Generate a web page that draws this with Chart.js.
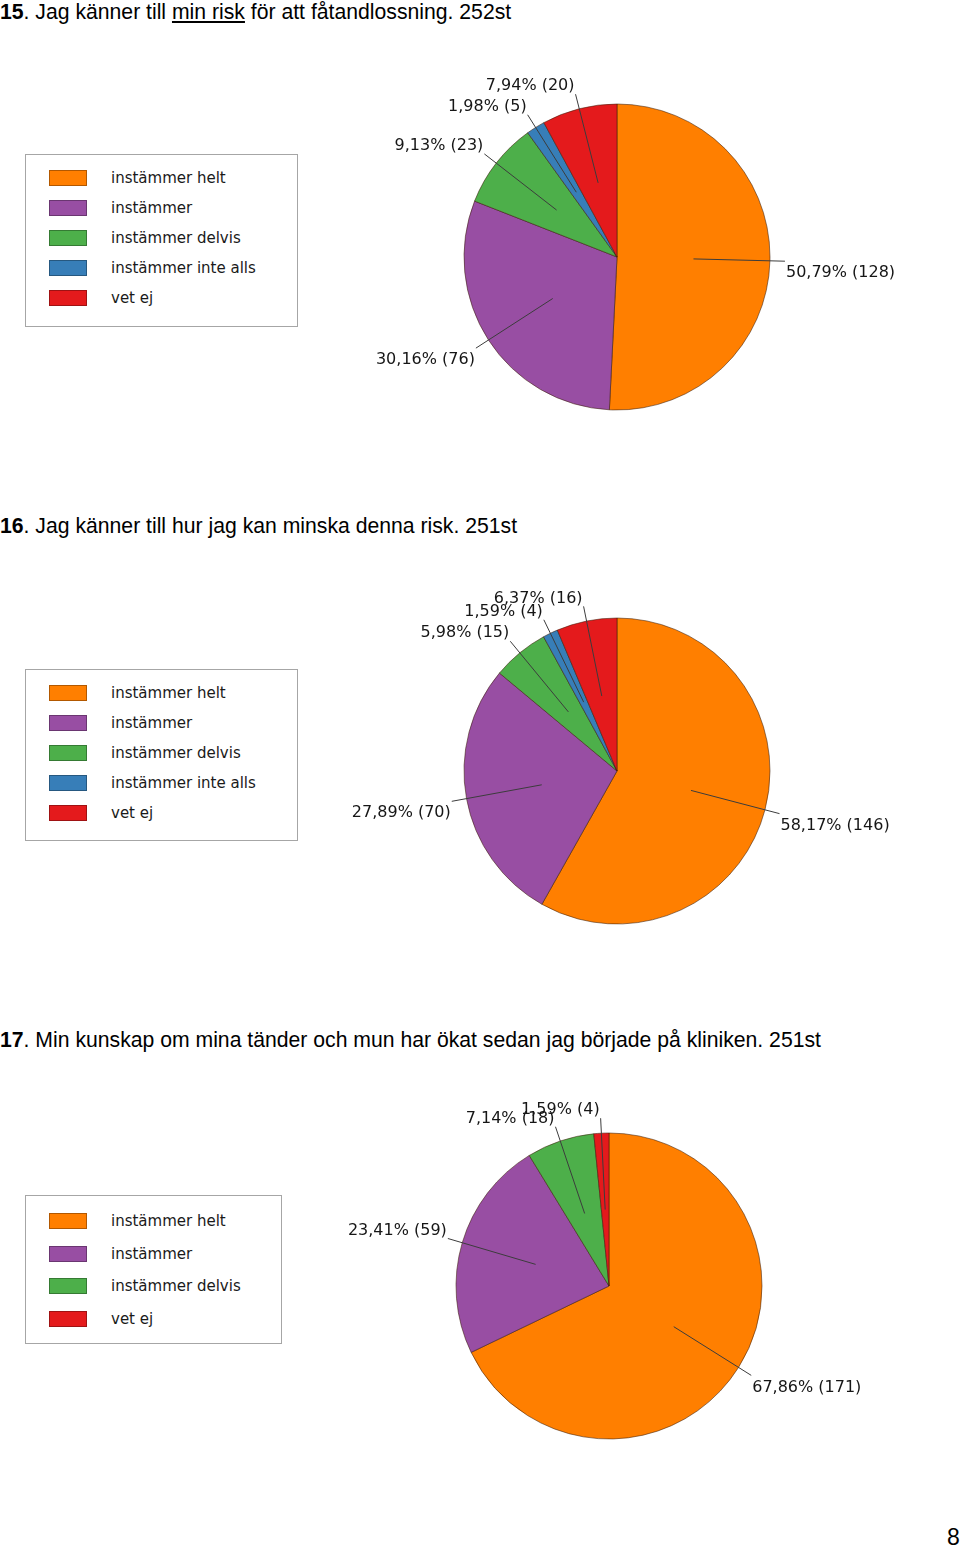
<!DOCTYPE html>
<html><head><meta charset="utf-8">
<script src="https://cdn.jsdelivr.net/npm/chart.js@4.4.0/dist/chart.umd.min.js"></script>
<style>
html,body{margin:0;padding:0;background:#fff;}
body{width:960px;height:1546px;position:relative;overflow:hidden;font-family:"DejaVu Sans",sans-serif;}
.title{position:absolute;left:0;font-family:"Liberation Sans",Arial,sans-serif;font-size:21.2px;line-height:26px;color:#000;white-space:nowrap;}
.title b{font-weight:bold;}
.title u{text-decoration:underline;text-underline-offset:2px;}
.legend{position:absolute;border:1px solid #a6a6a6;box-sizing:border-box;background:#fff;}
.lrow{position:absolute;left:0;height:20px;line-height:20px;font-size:15px;color:#1a1a1a;white-space:nowrap;}
.sw{position:absolute;left:23px;top:2px;width:38px;height:16px;box-sizing:border-box;border:1px solid rgba(0,0,0,0.3);}
.lt{position:absolute;left:85px;top:0;}
canvas{position:absolute;left:0;}
.page{position:absolute;left:947px;top:1526px;font-family:"Liberation Sans",Arial,sans-serif;font-size:23px;line-height:23px;color:#000;}
</style>
</head><body>
<script>
// ---- data ----
const categories1 = ['instämmer helt','instämmer','instämmer delvis','instämmer inte alls','vet ej'];
const values1 = [128, 76, 23, 5, 20];
const categories2 = ['instämmer helt','instämmer','instämmer delvis','instämmer inte alls','vet ej'];
const values2 = [146, 70, 15, 4, 16];
const categories3 = ['instämmer helt','instämmer','instämmer delvis','vet ej'];
const values3 = [171, 59, 18, 4];
const titleNumbers = ['15','16','17'];
const titleTexts = [
  '. Jag känner till <u>min risk</u> för att fåtandlossning. 252st',
  '. Jag känner till hur jag kan minska denna risk. 251st',
  '. Min kunskap om mina tänder och mun har ökat sedan jag började på kliniken. 251st'
];
const pageNumber = '8';

// ---- styles / layout ----
const categoryColors = {
  'instämmer helt':'#FF7F00',
  'instämmer':'#984EA3',
  'instämmer delvis':'#4DAF4A',
  'instämmer inte alls':'#377EB8',
  'vet ej':'#E41A1C'
};
const layouts = [
  {titleY:-1,  top:40,   h:470, cx:617, cy:257,  legend:{x:25,y:154,w:273,h:173,first:24,step:30}},
  {titleY:513, top:555,  h:470, cx:617, cy:771,  legend:{x:25,y:669,w:273,h:172,first:24,step:30}},
  {titleY:1027,top:1070, h:450, cx:609, cy:1286, legend:{x:25,y:1195,w:257,h:149,first:26,step:32.5}}
];
const RADIUS = 153;

const leaderLabels = {
  id:'leaderLabels',
  afterDatasetsDraw(chart){
    const ctx = chart.ctx;
    const ds = chart.data.datasets[0];
    const total = ds.data.reduce((a,b)=>a+b,0);
    const meta = chart.getDatasetMeta(0);
    ctx.save();
    ctx.font = '16px "DejaVu Sans"';
    meta.data.forEach((arc,i)=>{
      const p = arc.getProps(['x','y','startAngle','endAngle','outerRadius'], true);
      const mid = (p.startAngle+p.endAngle)/2;
      const c = Math.cos(mid), s = Math.sin(mid);
      const x1 = p.x + c*p.outerRadius*0.5, y1 = p.y + s*p.outerRadius*0.5;
      const x2 = p.x + c*(p.outerRadius+15), y2 = p.y + s*(p.outerRadius+15);
      ctx.strokeStyle = '#3c3c3c'; ctx.lineWidth = 1;
      ctx.beginPath(); ctx.moveTo(x1,y1); ctx.lineTo(x2,y2); ctx.stroke();
      const v = ds.data[i];
      const txt = (v/total*100).toFixed(2).replace('.',',') + '% (' + v + ')';
      ctx.fillStyle = '#161616';
      ctx.textAlign = c >= 0 ? 'left' : 'right';
      ctx.textBaseline = s >= 0 ? 'top' : 'bottom';
      ctx.fillText(txt, x2 + (c >= 0 ? 1 : -1), y2 + (s >= 0 ? 4 : 0));
    });
    ctx.restore();
  }
};

const allCats = [categories1, categories2, categories3];
const allVals = [values1, values2, values3];

allCats.forEach((cats, k) => {
  const L = layouts[k];
  // title
  const t = document.createElement('div');
  t.className = 'title';
  t.style.top = L.titleY + 'px';
  t.innerHTML = '<b>' + titleNumbers[k] + '</b>' + titleTexts[k];
  document.body.appendChild(t);
  // legend
  const lg = document.createElement('div');
  lg.className = 'legend';
  Object.assign(lg.style, {left:L.legend.x+'px', top:L.legend.y+'px', width:L.legend.w+'px', height:L.legend.h+'px'});
  cats.forEach((name, i) => {
    const r = document.createElement('div');
    r.className = 'lrow';
    r.style.top = (L.legend.first + i*L.legend.step - 10 - 1) + 'px';
    r.innerHTML = '<div class="sw" style="background:' + categoryColors[name] + '"></div><div class="lt">' + name + '</div>';
    lg.appendChild(r);
  });
  document.body.appendChild(lg);
  // chart canvas
  const cv = document.createElement('canvas');
  cv.width = 960; cv.height = L.h;
  cv.style.top = L.top + 'px';
  cv.style.width = '960px'; cv.style.height = L.h + 'px';
  document.body.appendChild(cv);
  const cyLocal = L.cy - L.top;
  new Chart(cv, {
    type:'pie',
    data:{
      labels: cats,
      datasets:[{
        data: allVals[k],
        backgroundColor: cats.map(n => categoryColors[n]),
        borderColor:'rgba(60,30,10,0.55)',
        borderWidth:1
      }]
    },
    options:{
      responsive:false,
      animation:false,
      radius: RADIUS,
      layout:{padding:{left:L.cx-170, right:960-L.cx-170, top:cyLocal-170, bottom:L.h-cyLocal-170}},
      plugins:{legend:{display:false}, tooltip:{enabled:false}}
    },
    plugins:[leaderLabels]
  });
});

const pg = document.createElement('div');
pg.className = 'page';
pg.textContent = pageNumber;
document.body.appendChild(pg);
</script>
</body></html>
